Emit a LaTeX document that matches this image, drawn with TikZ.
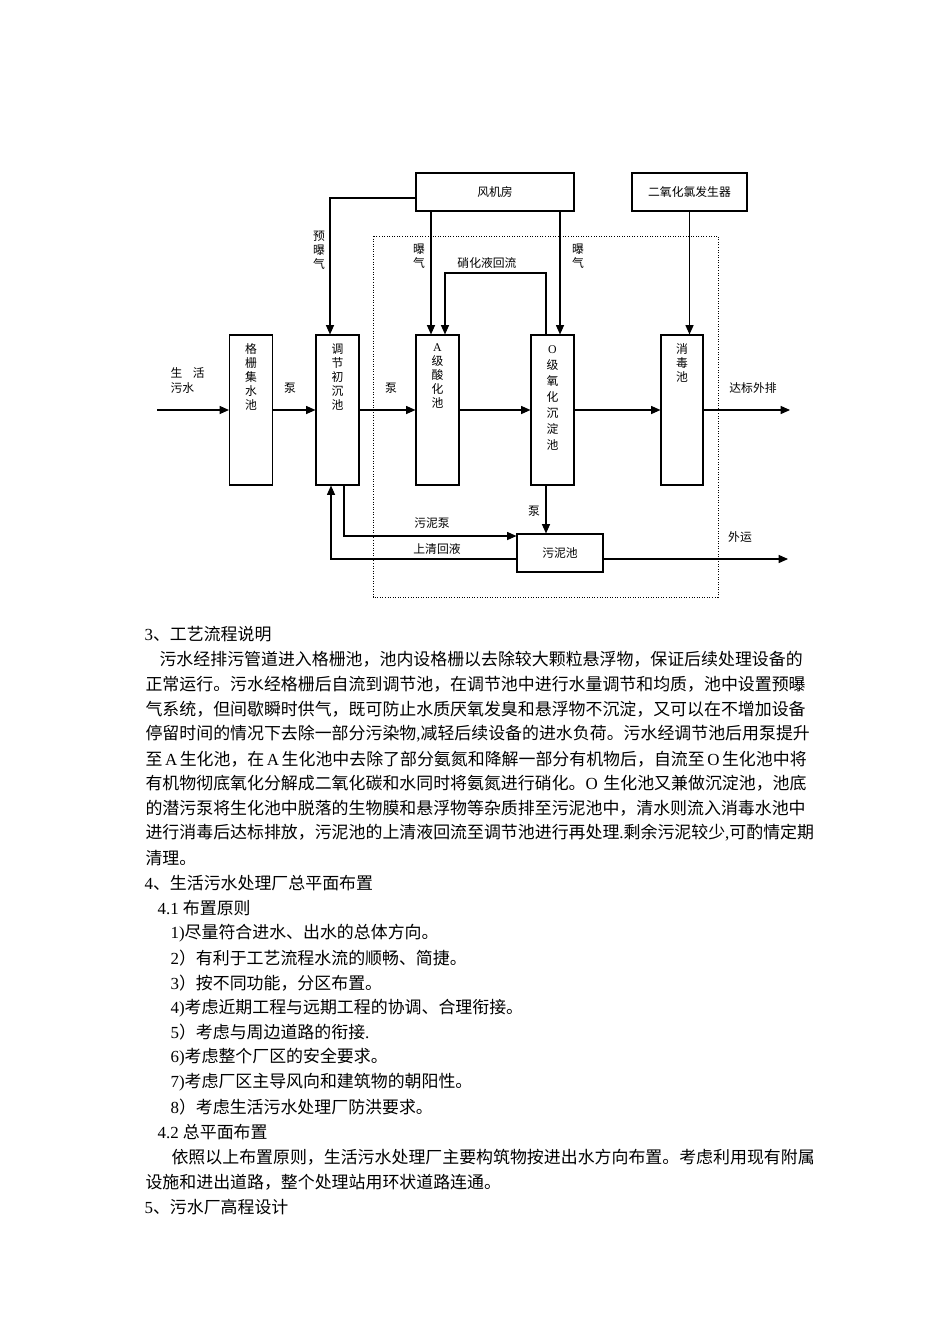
\documentclass[tikz,border=0pt]{standalone}
\usepackage{fontspec}
\usetikzlibrary{arrows.meta}
\setmainfont{Noto Sans CJK SC}
\newfontfamily\lat{Liberation Serif}
\newcommand\en[1]{{\lat #1}}
\newlength\pu
\setlength\pu{0.6263pt}
\XeTeXlinebreaklocale "zh"
\XeTeXlinebreakskip=0pt plus 1pt minus 0.4pt
\newcommand\jline[2]{\hbox to #1\pu{#2}}

\begin{document}
\begin{tikzpicture}[x=\pu, y=-\pu, >={Triangle[length=5.8pt,width=5pt]}, line width=0.7pt,
  small/.style={inner sep=0pt, font=\fontsize{7.4pt}{8.77pt}\selectfont},
  vtxt/.style={small, anchor=north, align=center},
  tank/.style={draw, inner sep=0pt, minimum width=43\pu, minimum height=150\pu},
  unit/.style={draw, small, minimum height=38\pu},
  flow/.style={->},
  txt/.style={anchor=west, inner sep=0pt, font=\fontsize{10.6pt}{12pt}\selectfont}]
  \fill[white] (0,0) rectangle (950,1344);
  \useasboundingbox (0,0) rectangle (950,1344);
  % top units
  \node[unit, minimum width=158\pu] (fj) at (495,192) {风机房};
  \node[unit, minimum width=115\pu] (cl) at (689.5,192) {二氧化氯发生器};
  % tanks
  \node[tank] (gs) at (251,410) {};
  \node[vtxt] (gs-t) at (251,343) {格\\栅\\集\\水\\池};
  \node[tank] (tj) at (337.5,410) {};
  \node[vtxt] (tj-t) at (337.5,343) {调\\节\\初\\沉\\池};
  \node[tank] (aa) at (437.5,410) {};
  \node[vtxt] (aa-t) at (437.5,343) {\en{A}\\级\\酸\\化\\池};
  \node[tank] (oo) at (552.5,410) {};
  \node[vtxt, font=\fontsize{7.4pt}{10pt}\selectfont] (oo-t) at (552.5,345) {\en{O}\\级\\氧\\化\\沉\\淀\\池};
  \node[tank, minimum width=42\pu] (xd) at (682,410) {};
  \node[vtxt] (xd-t) at (682,343) {消\\毒\\池};
  \node[unit, minimum width=86\pu] (wn) at (560,553) {污泥池};
  % dotted frame
  \draw[densely dotted, line width=0.6pt] (373,236) rectangle (718,597);
  % main flow
  \coordinate (in) at (157,410);
  \coordinate (out) at (790,410);
  \draw[flow] (in) -- (gs);
  \draw[flow] (gs) -- (tj);
  \draw[flow] (tj) -- (aa);
  \draw[flow] (aa) -- (oo);
  \draw[flow] (oo) -- (xd);
  \draw[flow] (xd) -- (out);
  \node[small, anchor=west] (sh) at (170,373) {生\hspace{0.9em}活};
  \node[small, anchor=west] (ws) at (170,388) {污水};
  \node[small] (b1) at (290,388) {泵};
  \node[small] (b2) at (391,388) {泵};
  \node[small] (db) at (753,388) {达标外排};
  % air and dosing
  \draw[flow] (fj.west |- 0,198) -| (tj.north -| 330,0);
  \node[vtxt] (yb) at (319,231) {预\\曝\\气};
  \draw[flow] (fj.south -| 431,0) -- (aa.north -| 431,0);
  \node[vtxt] (pq1) at (419,243) {曝\\气};
  \draw[flow] (fj.south -| 560,0) -- (oo.north -| 560,0);
  \node[vtxt] (pq2) at (578,243) {曝\\气};
  \draw[flow] (oo.north -| 546,0) |- (445,273) -- (aa.north -| 445,0);
  \node[small] (hl) at (487,263) {硝化液回流};
  \draw[flow] (cl.south) -- (xd.north -| cl.south);
  % sludge
  \draw[flow] (oo.south -| 546,0) -- (wn.north -| 546,0);
  \node[small] (b3) at (534,511) {泵};
  \draw[flow] (tj.south -| 344,0) |- (wn.west |- 0,536);
  \node[small] (wb) at (432,523) {污泥泵};
  \draw[flow] (wn.west |- 0,559) -| (tj.south -| 331,0);
  \node[small] (sq) at (437,549) {上清回液};
  \coordinate (out2) at (788,559);
  \draw[flow] (wn.east |- 0,559) -- (out2);
  \node[small] (wy) at (740,537) {外运};
  % text
  \node[txt] (h3) at (144,634) {\en{3}、工艺流程说明};
  \node[txt] (p1) at (159,659) {\jline{647}{污水经排污管道进入格栅池，池内设格栅以去除较大颗粒悬浮物，保证后续处理设备的}};
  \node[txt] (p2) at (145,684) {\jline{661}{正常运行。污水经格栅后自流到调节池，在调节池中进行水量调节和均质，池中设置预曝}};
  \node[txt] (p3) at (145,709) {\jline{661}{气系统，但间歇瞬时供气，既可防止水质厌氧发臭和悬浮物不沉淀，又可以在不增加设备}};
  \node[txt] (p4) at (145,734) {\jline{661}{停留时间的情况下去除一部分污染物\en{,}减轻后续设备的进水负荷。污水经调节池后用泵提升}};
  \node[txt] (p5) at (145,759) {\jline{661}{至 \en{A} 生化池，在 \en{A} 生化池中去除了部分氨氮和降解一部分有机物后，自流至 \en{O} 生化池中将}};
  \node[txt] (p6) at (145,783) {\jline{661}{有机物彻底氧化分解成二氧化碳和水同时将氨氮进行硝化。\en{O} 生化池又兼做沉淀池，池底}};
  \node[txt] (p7) at (145,808) {\jline{661}{的潜污泵将生化池中脱落的生物膜和悬浮物等杂质排至污泥池中，清水则流入消毒水池中}};
  \node[txt] (p8) at (145,833) {\jline{661}{进行消毒后达标排放，污泥池的上清液回流至调节池进行再处理\en{.}剩余污泥较少\en{,}可酌情定期}};
  \node[txt] (p9) at (145,858) {清理。};
  \node[txt] (h4) at (144,883) {\en{4}、生活污水处理厂总平面布置};
  \node[txt] (h41) at (157,908) {\en{4.1 }布置原则};
  \node[txt] (r1) at (170,933) {\en{1)}尽量符合进水、出水的总体方向。};
  \node[txt] (r2) at (170,958) {\en{2}）有利于工艺流程水流的顺畅、简捷。};
  \node[txt] (r3) at (170,983) {\en{3}）按不同功能，分区布置。};
  \node[txt] (r4) at (170,1008) {\en{4)}考虑近期工程与远期工程的协调、合理衔接。};
  \node[txt] (r5) at (170,1032) {\en{5}）考虑与周边道路的衔接\en{.}};
  \node[txt] (r6) at (170,1057) {\en{6)}考虑整个厂区的安全要求。};
  \node[txt] (r7) at (170,1082) {\en{7)}考虑厂区主导风向和建筑物的朝阳性。};
  \node[txt] (r8) at (170,1107) {\en{8}）考虑生活污水处理厂防洪要求。};
  \node[txt] (h42) at (157,1132) {\en{4.2 }总平面布置};
  \node[txt] (q1) at (171,1157) {\jline{635}{依照以上布置原则，生活污水处理厂主要构筑物按进出水方向布置。考虑利用现有附属}};
  \node[txt] (q2) at (145,1182) {设施和进出道路，整个处理站用环状道路连通。};
  \node[txt] (h5) at (144,1207) {\en{5}、污水厂高程设计};
\end{tikzpicture}
\end{document}
